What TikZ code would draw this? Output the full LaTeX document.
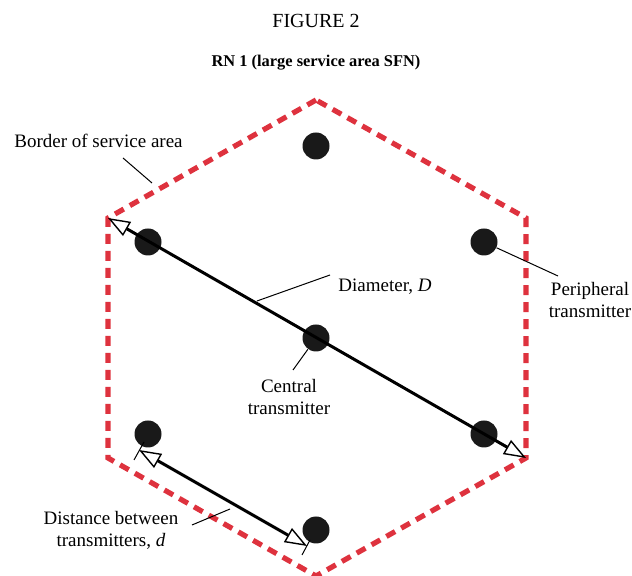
\documentclass[tikz,border=0pt]{standalone}
\usepackage{fontspec}
\setmainfont{Liberation Serif}
\usetikzlibrary{arrows.meta}
\definecolor{borderred}{RGB}{222,50,62}

\begin{document}
\begin{tikzpicture}[
    x=0.5pt, y=-0.5pt,
    txlabel/.style={font=\fontsize{9.5}{11}\selectfont, inner sep=0pt, align=center},
    transmitter/.style={circle, fill=black!90, minimum size=13.5pt, inner sep=0pt},
    border/.style={draw=borderred, line width=2.6pt, dash pattern=on 5pt off 3.5pt},
    dimline/.style={line width=1.5pt, {Triangle[open, fill=white, line width=0.7pt, length=11pt, width=8pt]}-{Triangle[open, fill=white, line width=0.7pt, length=11pt, width=8pt]}},
    leader/.style={line width=0.5pt}
]
\useasboundingbox (0,0) rectangle (632,576);

% Titles
\node[font=\fontsize{10}{12}\selectfont, anchor=base] (fig) at (316,28) {FIGURE 2};
\node[font=\fontsize{8.2}{10}\selectfont\bfseries, anchor=base] (rn) at (316,67) {RN 1 (large service area SFN)};

% Service area border
\coordinate (top) at (316,100);
\coordinate (ul) at (108,218);
\coordinate (ll) at (108,458);
\coordinate (bot) at (316,576);
\coordinate (lr) at (526,458);
\coordinate (ur) at (526,218);
\draw[border] (top) -- (ul) -- (ll) -- (bot) -- (lr) -- (ur) -- cycle;

% Transmitters
\node[transmitter] (ttop) at (316,146) {};
\node[transmitter] (tul) at (148,242) {};
\node[transmitter] (tur) at (484,242) {};
\node[transmitter] (tc) at (316,338) {};
\node[transmitter] (tll) at (148,434) {};
\node[transmitter] (tlr) at (484,434) {};
\node[transmitter] (tbot) at (316,530) {};

% Diameter
\draw[dimline] (ul) -- (lr);

% Distance between transmitters
\coordinate (da) at (139,450);
\coordinate (db) at (307,546);
\coordinate (ta1) at (144,442);
\coordinate (ta2) at (134,460);
\coordinate (tb1) at (310,540);
\coordinate (tb2) at (302,555);
\draw[leader] (ta1) -- (ta2);
\draw[leader] (tb1) -- (tb2);
\draw[dimline] (da) -- (db);

% Labels
\node[txlabel, anchor=base west] (bordlab) at (14,148) {Border of service area};
\node[txlabel, anchor=base west] (diamlab) at (338,292) {Diameter, \textit{D}};
\node[txlabel, anchor=north] (perlab) at (590,282) {Peripheral\\transmitter};
\node[txlabel, anchor=north] (cenlab) at (289,379) {Central\\transmitter};
\node[txlabel, anchor=north] (distlab) at (111,511) {Distance between\\transmitters, \textit{d}};

% Leaders
\coordinate (bordstart) at (123,158);
\coordinate (bordend) at (152,183);
\draw[leader] (bordstart) -- (bordend);
\coordinate (diamstart) at (330,275);
\coordinate (diamend) at (257,301);
\draw[leader] (diamstart) -- (diamend);
\coordinate (perend) at (558,276);
\draw[leader] (tur) -- (perend);
\coordinate (cenend) at (293,370);
\draw[leader] (tc) -- (cenend);
\coordinate (diststart) at (192,525);
\coordinate (distend) at (230,509);
\draw[leader] (diststart) -- (distend);

\end{tikzpicture}
\end{document}
